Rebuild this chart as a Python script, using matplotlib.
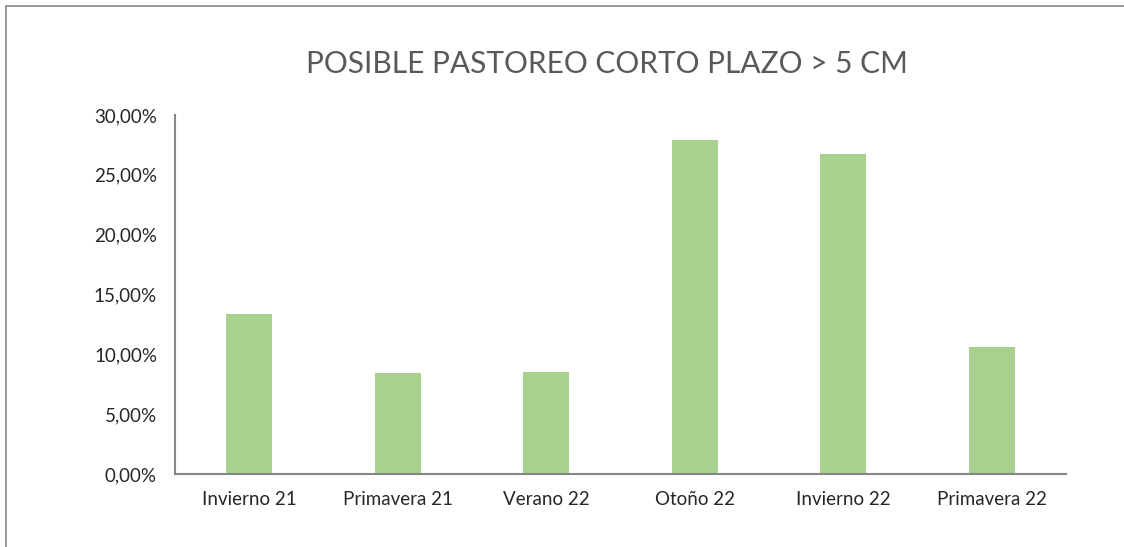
import matplotlib
matplotlib.use("Agg")
import matplotlib.pyplot as plt
from matplotlib.ticker import FuncFormatter
from matplotlib.patches import Rectangle

categories = ["Invierno 21", "Primavera 21", "Verano 22", "Otoño 22", "Invierno 22", "Primavera 22"]
values = [13.37, 8.44, 8.52, 27.9, 26.77, 10.64]
title = "POSIBLE PASTOREO CORTO PLAZO > 5 CM"

plt.rcParams['font.family'] = ['Lato', 'DejaVu Sans']

fig = plt.figure(figsize=(11.24, 5.47), dpi=100)
ax = fig.add_axes([175/1124, 1-474/547, (1066-175)/1124, (474-115)/547])

x = range(len(categories))
ax.bar(x, values, width=0.31, color="#A9D18E")
ax.set_xlim(-0.5, len(categories)-0.5)
ax.set_ylim(0, 30)
ax.set_yticks([0, 5, 10, 15, 20, 25, 30])
ax.yaxis.set_major_formatter(FuncFormatter(lambda v, p: f"{v:.2f}%".replace(".", ",")))
ax.set_xticks(list(x))
ax.set_xticklabels(categories)
ax.tick_params(axis='both', length=0, labelsize=13.5, colors="#262626")
ax.tick_params(axis='x', pad=12)
ax.tick_params(axis='y', pad=13)
for s in ["top", "right"]:
    ax.spines[s].set_visible(False)
for s in ["left", "bottom"]:
    ax.spines[s].set_color("#868686")
    ax.spines[s].set_linewidth(1.5)

fig.text(607/1124, 1-64/547, title, ha="center", va="center", fontsize=21.5,
         color="#595959", fontweight="normal")

fig.patches.append(Rectangle((6/1124, -0.1), 1.2, 1-6/547+0.1, transform=fig.transFigure,
                             fill=False, edgecolor="#868686", linewidth=1.2))

fig.savefig("out.png", dpi=100)
